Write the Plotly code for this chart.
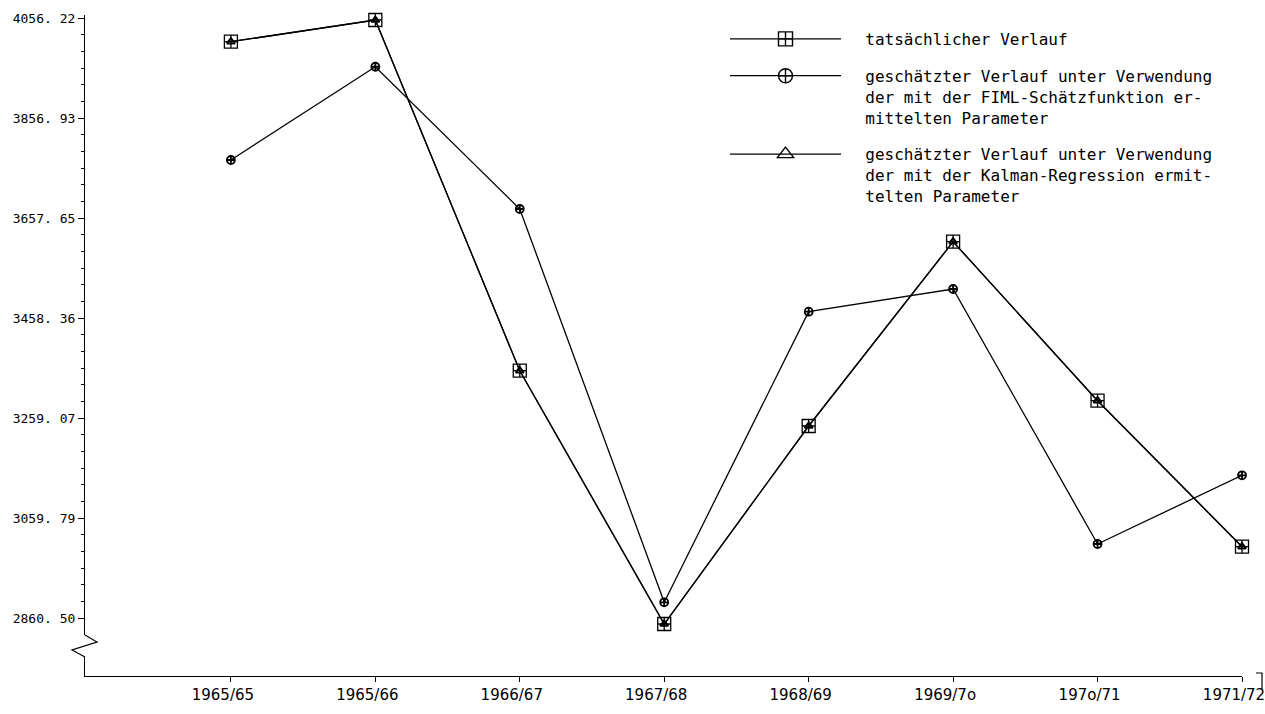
import plotly.graph_objects as go

# ---- data ----
periods = ["1965/65", "1965/66", "1966/67", "1967/68", "1968/69", "1969/7o", "197o/71", "1971/72"]
actual = [4009.6, 4052.8, 3353.9, 2849.1, 3243.7, 3611.0, 3294.1, 3003.2]
fiml = [3773.8, 3959.7, 3676.2, 2892.4, 3471.5, 3516.7, 3008.6, 3145.5]
kalman = [4009.6, 4052.8, 3353.9, 2849.1, 3243.7, 3611.0, 3294.1, 3003.2]

y_tick_vals = [2860.50, 3059.79, 3259.07, 3458.36, 3657.65, 3856.93, 4056.22]
y_tick_text = ["2860. 50", "3059. 79", "3259. 07", "3458. 36", "3657. 65", "3856. 93", "4056. 22"]

legend_lines_actual = ["tatsächlicher Verlauf"]
legend_lines_fiml = ["geschätzter Verlauf unter Verwendung",
                     "der mit der FIML-Schätzfunktion er-",
                     "mittelten Parameter"]
legend_lines_kalman = ["geschätzter Verlauf unter Verwendung",
                       "der mit der Kalman-Regression ermit-",
                       "telten Parameter"]

# ---- layout geometry (page pixels; body margin is removed after plotting) ----
W, H = 1265, 714
PLOT_LEFT, PLOT_RIGHT, PLOT_TOP, PLOT_BOTTOM = 85, 1242, 15, 676
L = PLOT_LEFT
T = PLOT_TOP
R = W - PLOT_RIGHT
B = H - PLOT_BOTTOM
PW, PH = W - L - R, H - T - B


def px(x):
    return (x - PLOT_LEFT) / PW


def py(y):
    return (PLOT_BOTTOM - y) / PH


def legend_name(lines):
    # small gap between the legend key line and its text
    pad = "\u00a0\u00a0"
    return "<br>".join(pad + s for s in lines)


# minor ticks: 5 between each labelled tick
minor_vals = []
for lo, hi in zip(y_tick_vals[:-1], y_tick_vals[1:]):
    for k in range(1, 6):
        minor_vals.append(lo + k * (hi - lo) / 6)

line_style = dict(color="black", width=1.3)

series = [
    (actual, legend_name(legend_lines_actual), "a", "square-cross-open", 13, 1.3),
    (fiml, legend_name(legend_lines_fiml), "b", "circle-cross-open", 8, 1.8),
    (kalman, legend_name(legend_lines_kalman), "c", "triangle-up-open", 7, 2.0),
]

fig = go.Figure()
# plotted series (legend entries are drawn separately with larger symbols)
for vals, name, grp, sym, size, mlw in series:
    fig.add_trace(go.Scatter(
        x=periods, y=vals, name=name, legendgroup=grp, showlegend=False,
        mode="lines+markers", line=line_style, cliponaxis=False,
        marker=dict(symbol=sym, size=size, color="black", line=dict(width=mlw)),
    ))
# legend keys
for vals, name, grp, sym, size, mlw in series:
    fig.add_trace(go.Scatter(
        x=[None], y=[None], name=name, legendgroup=grp, showlegend=True,
        mode="lines+markers", line=line_style,
        marker=dict(symbol=sym, size=14, color="black", line=dict(width=1.4)),
    ))

shapes = [
    # gap in the y axis for the break symbol
    dict(type="rect", xref="paper", yref="paper", x0=px(82), x1=px(88), y0=py(657), y1=py(635),
         fillcolor="white", line=dict(width=0), layer="above"),
    # zig-zag axis break
    dict(type="path", xref="paper", yref="paper", layer="above",
         path=f"M{px(85)},{py(635)} L{px(97)},{py(642)} L{px(72)},{py(650)} L{px(85)},{py(657)}",
         line=dict(color="black", width=1.2)),
    # end bracket at the right of the x axis
    dict(type="path", xref="paper", yref="paper", layer="above",
         path=f"M{px(1256)},{py(673)} L{px(1262)},{py(673)} L{px(1262)},{py(689)}",
         line=dict(color="black", width=1.2)),
]

fig.update_layout(
    width=W, height=H,
    margin=dict(l=L, r=R, t=T, b=B, pad=0, autoexpand=False),
    paper_bgcolor="white", plot_bgcolor="white",
    showlegend=True,
    legend=dict(
        x=px(725), xanchor="left", y=py(22), yanchor="top",
        font=dict(family="DejaVu Sans Mono", size=16, color="black"),
        bgcolor="rgba(0,0,0,0)", itemwidth=111, valign="top",
        tracegroupgap=13,
    ),
    shapes=shapes,
    xaxis=dict(
        type="category", range=[-1.01, 7], showgrid=False, zeroline=False,
        showline=True, linecolor="black", linewidth=1.2, automargin=False,
        ticks="outside", ticklen=5, tickcolor="black", tickwidth=1.2,
        tickfont=dict(family="DejaVu Sans", size=15, color="black"),
        ticklabelshift=-8,
    ),
    yaxis=dict(
        range=[2745.5, 4062.8], showgrid=False, zeroline=False,
        showline=True, linecolor="black", linewidth=1.2, automargin=False,
        tickmode="array", tickvals=y_tick_vals, ticktext=y_tick_text,
        ticks="outside", ticklen=6, tickcolor="black", tickwidth=1.2,
        tickfont=dict(family="DejaVu Sans Mono", size=13, color="black"),
        minor=dict(tickmode="array", tickvals=minor_vals, ticks="outside", ticklen=3,
                   tickcolor="black", tickwidth=1, showgrid=False),
    ),
)

fig.write_html(
    "out.html",
    config={"displayModeBar": False},
    post_script="document.body.style.margin='0';document.body.style.overflow='hidden';",
)
